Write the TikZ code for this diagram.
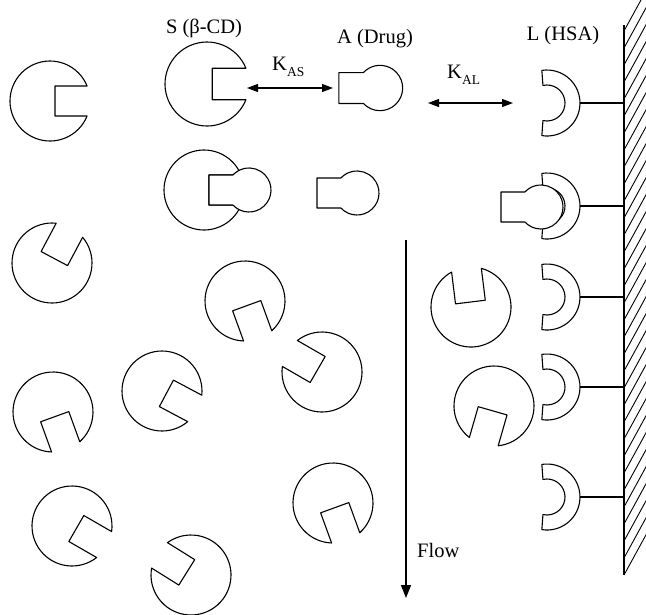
\documentclass[tikz,border=0pt]{standalone}
\usepackage{fontspec}
\setmainfont{Liberation Serif}
\usetikzlibrary{arrows.meta}

\tikzset{
  outline/.style={draw=black, line width=1.1pt, fill=white, line join=round},
  lbl/.style={font=\fontsize{20.5}{24}\selectfont, inner sep=0pt, anchor=base},
  bind/.style={{Triangle[length=11pt,width=8pt]}-{Triangle[length=11pt,width=8pt]}, line width=1.1pt},
  flowarrow/.style={-{Triangle[length=13pt,width=10pt]}, line width=1.1pt},
  tether/.style={line width=1.1pt},
  hatch/.style={line width=0.9pt},
  % cyclodextrin: a disc with a rectangular cavity opening along +x
  cd/.pic={
    \path[outline] (22:40) arc[start angle=22,end angle=338,radius=40]
      -- (5,-15) -- (5,15) -- cycle;
    \coordinate (-east) at (40,0);
  },
  % drug molecule: square tail and round head
  drug/.pic={
    \path[outline] (-40,15) -- (137:22)
      arc[start angle=137,end angle=-137,radius=22]
      -- (-40,-15) -- cycle;
    \coordinate (-west) at (-40,0);
    \coordinate (-east) at (22,0);
  },
  % immobilised albumin: half ring open to the left
  hsa/.pic={
    \path[outline] (99:33) arc[start angle=99,end angle=-99,radius=33]
      -- (-103:18) arc[start angle=-103,end angle=103,radius=18] -- cycle;
    \coordinate (-tail) at (33,0);
    \coordinate (-west) at (-6,0);
  }
}

\newcommand{\subtxt}[1]{\raisebox{-6.5pt}{\fontsize{13.5}{14}\selectfont #1}}

\begin{document}
\begin{tikzpicture}[x=1pt,y=-1pt]
\useasboundingbox (0,0) rectangle (646,614);

% ---- stationary phase wall ----
\coordinate (wtop) at (624,25);
\coordinate (wbot) at (624,575);
\begin{scope}
  \clip (624,0) rectangle (646,614);
  \foreach \y in {575,558,...,20}
    \draw[hatch] (624,\y) -- ++(23,-42);
\end{scope}
\draw[tether] (wtop) -- (wbot);

% ---- immobilised HSA ----
\foreach \n/\y in {1/103,2/206,3/297,4/387,5/497}{
  \pic (r\n) at (547,\y) {hsa};
  \coordinate (w\n) at (624,\y);
  \draw[tether] (r\n-tail) -- (w\n);
}

% ---- free cyclodextrins ----
\pic (c1) at (50,101) {cd};
\pic[rotate=62] (c4) at (52,263) {cd};
\pic[rotate=-70] (c5) at (245,301) {cd};
\pic[rotate=150] (c6) at (322,372) {cd};
\pic[rotate=-70] (c7) at (53,412) {cd};
\pic[rotate=-28] (c8) at (162,391) {cd};
\pic[rotate=-30] (c9) at (72,526) {cd};
\pic[rotate=148] (c10) at (191,575) {cd};
\pic[rotate=-70] (c11) at (333,503) {cd};
\pic[rotate=97] (c12) at (471,307) {cd};
\pic[rotate=-106] (c13) at (494,406) {cd};

% ---- equilibrium species ----
\pic[scale=1.05] (s) at (207,84) {cd};
\pic[scale=1.03] (a) at (380,88) {drug};

% inclusion complex
\pic (cx) at (204,190) {cd};
\pic (dx) at (249,190) {drug};

% free drug
\pic (d2) at (357,193) {drug};

% drug bound to HSA
\pic (d3) at (541,207) {drug};

% ---- labels ----
\node[lbl] (slbl) at (204,33) {S (β-CD)};
\node[lbl] (albl) at (375,43) {A (Drug)};
\node[lbl] (llbl) at (563,40) {L (HSA)};
\node[lbl, anchor=base west] (kas) at (272,70) {K\subtxt{AS}};
\node[lbl, anchor=base west] (kal) at (447,78) {K\subtxt{AL}};

% ---- equilibria ----
\coordinate (kas-l) at (247,88);
\coordinate (kas-r) at (333,88);
\draw[bind] (kas-l) -- (kas-r);
\coordinate (kal-l) at (428,103);
\coordinate (kal-r) at (513,103);
\draw[bind] (kal-l) -- (kal-r);

% ---- mobile phase flow ----
\coordinate (flow-top) at (406,240);
\coordinate (flow-end) at (406,598);
\draw[flowarrow] (flow-top) -- (flow-end);
\node[lbl, anchor=base west] (flow) at (417,557) {Flow};

\end{tikzpicture}
\end{document}
